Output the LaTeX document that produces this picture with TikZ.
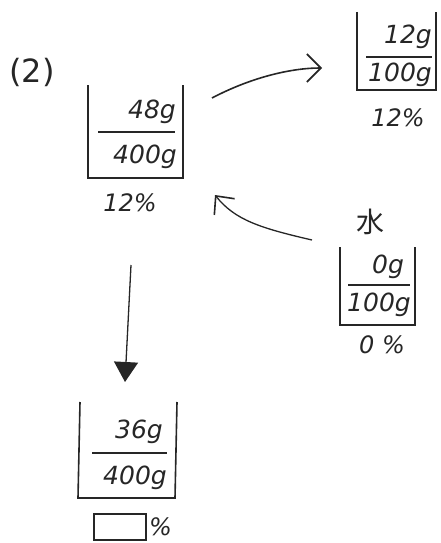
\documentclass[tikz,border=0pt]{standalone}
\usepackage{fontspec}
\setmainfont{DejaVu Sans}
\newfontfamily\cjk{Noto Sans CJK JP}
\usetikzlibrary{arrows.meta}
\tikzset{
  ink/.style={draw=black!85, line width=1.6pt},
  lbl/.style={font=\fontsize{25}{25}\selectfont\itshape, text=black!85, inner sep=0pt},
  pct/.style={font=\fontsize{24}{24}\selectfont\itshape, text=black!85, inner sep=0pt},
}
\begin{document}
\begin{tikzpicture}[x=1pt,y=-1pt]
\useasboundingbox (0,0) rectangle (441,543);
% (2)
\node[font=\fontsize{32}{32}\selectfont, text=black!85, inner sep=0pt] (lab) at (32,72) {(2)};
% beaker 1
\draw[ink] (88,85) -- (88,178) -- (183,178) -- (183,85);
\draw[ink] (98,132) -- (175,132);
\node[lbl] (b1t) at (152,112) {48g};
\node[lbl] (b1b) at (145,157) {400g};
\node[pct] (b1p) at (130,203) {12\%};
% beaker 2
\draw[ink] (357,12) -- (357,90) -- (436,90) -- (436,12);
\draw[ink] (366,57) -- (432,57);
\node[lbl] (b2t) at (408,37) {12g};
\node[lbl] (b2b) at (400,75) {100g};
\node[pct] (b2p) at (398,118) {12\%};
% water label
\node[font=\fontsize{28}{28}\selectfont\cjk, text=black!85, inner sep=0pt] (w) at (370,222) {水};
% beaker 3
\draw[ink] (340,247) -- (340,325) -- (415,325) -- (415,247);
\draw[ink] (348,285) -- (410,285);
\node[lbl] (b3t) at (388,267) {0g};
\node[lbl] (b3b) at (379,305) {100g};
\node[pct] (b3p) at (382,345) {0 \%};
% beaker 4
\draw[ink] (80,402) -- (78,498) -- (175,498) -- (177,402);
\draw[ink] (92,453) -- (167,453);
\node[lbl] (b4t) at (139,432) {36g};
\node[lbl] (b4b) at (135,478) {400g};
\node[draw=black!85, line width=1.6pt, minimum width=52pt, minimum height=26pt, inner sep=0pt] (box) at (120,527) {};
\node[pct, anchor=west] (b4p) at ([xshift=2pt]box.east) {\%};
% arrows
\coordinate (a1s) at (212,98);
\coordinate (a1e) at (322,68);
\draw[ink, -{Straight Barb[length=14pt,width=28pt,line width=1.6pt]}] (a1s) .. controls (250,78) and (290,68) .. (a1e);
\coordinate (a2s) at (312,240);
\coordinate (a2e) at (215,195);
\draw[ink, line width=1.3pt, -{Straight Barb[length=14pt,width=26pt,line width=1.6pt]}] (a2s) .. controls (260,228) and (235,220) .. (a2e);
\coordinate (a3s) at (131,265);
\coordinate (a3e) at (125,382);
\draw[ink, line width=1.3pt, -{Triangle[length=20pt,width=24pt]}] (a3s) -- (a3e);
\end{tikzpicture}
\end{document}
